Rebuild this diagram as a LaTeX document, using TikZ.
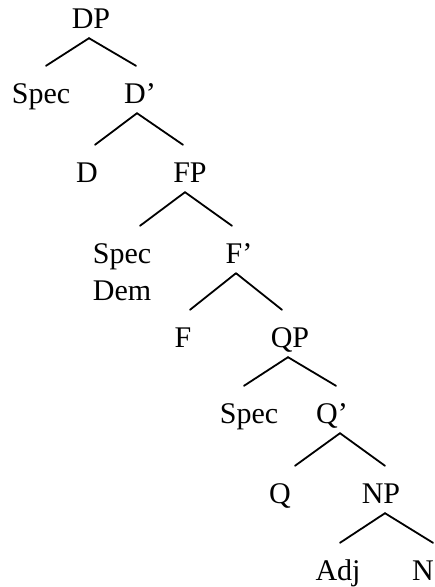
\documentclass[tikz,border=0pt]{standalone}
\usepackage{fontspec}
\setmainfont{Liberation Serif}
\usetikzlibrary{positioning}
\tikzset{cat/.style={font=\fontsize{30}{35}\selectfont, inner sep=0pt,
    text height=37pt, text depth=10pt, anchor=base}}
\tikzset{branch/.style={line width=1.8pt, line cap=round}}

\begin{document}
\begin{tikzpicture}[x=1pt,y=-1pt]
  \useasboundingbox (0,0) rectangle (435,587);
  % categories, row by row
  \node[cat] (dp) at (91,28) {DP};
  \node[cat] (spec1) at (41,103) {Spec};
  \node[cat] (dbar) at (140,103) {D’};
  \node[cat] (d) at (87,182) {D};
  \node[cat] (fp) at (190,182) {FP};
  \node[cat] (spec2) at (122,263) {Spec};
  \node[cat] (dem) at (122,300) {Dem};
  \node[cat] (fbar) at (239,263) {F’};
  \node[cat] (f) at (183,347) {F};
  \node[cat] (qp) at (290,347) {QP};
  \node[cat] (spec3) at (249,423) {Spec};
  \node[cat] (qbar) at (332,423) {Q’};
  \node[cat] (q) at (280,503) {Q};
  \node[cat] (np) at (381,503) {NP};
  \node[cat] (adj) at (338,580) {Adj};
  \node[cat] (n) at (423,580) {N};
  % branches: parent/apex shift/child/end shift
  \foreach \p/\a/\c/\s in {dp/-2/spec1/5, dp/-2/dbar/-4,
      dbar/-3/d/8, dbar/-3/fp/-7,
      fp/-5/spec2/18, fp/-5/fbar/-7,
      fbar/-3/f/7, fbar/-3/qp/-8,
      qp/-2/spec3/-5, qp/-2/qbar/4,
      qbar/8/q/15, qbar/8/np/4,
      np/4/adj/2, np/4/n/10}
    \draw[branch] ([xshift=\a pt]\p.south) -- ([xshift=\s pt]\c.north);
\end{tikzpicture}
\end{document}
